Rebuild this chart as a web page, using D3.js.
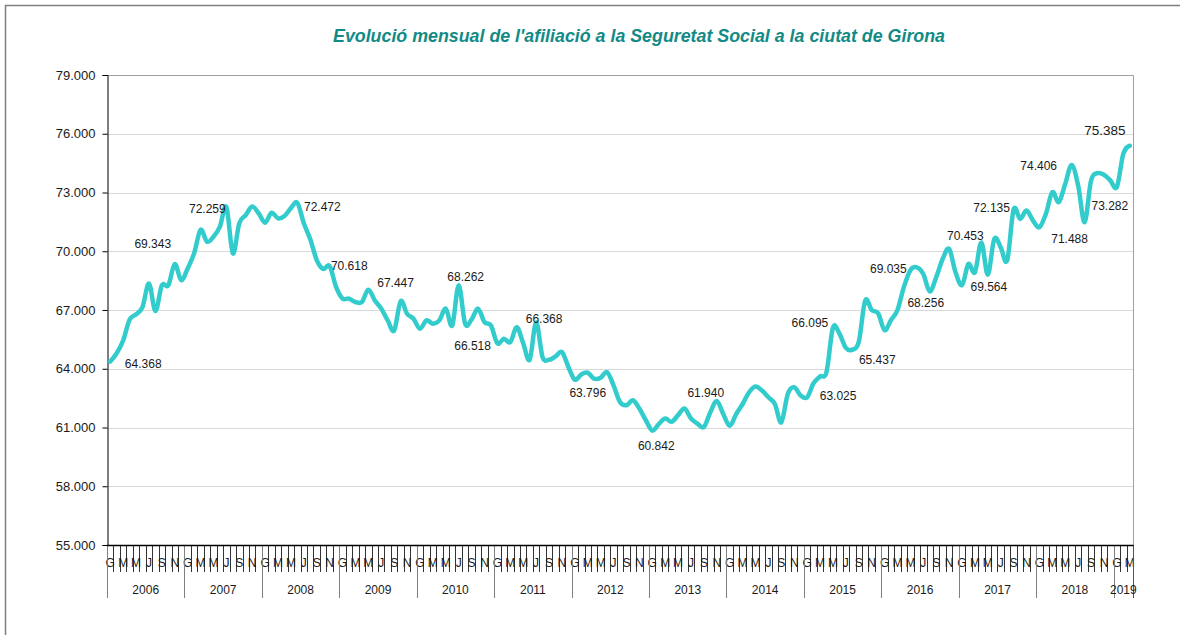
<!DOCTYPE html>
<html>
<head>
<meta charset="utf-8">
<script src="https://cdn.jsdelivr.net/npm/d3@7"></script>
<style>
  body { margin: 0; background: #fff; }
  svg { display: block; font-family: "Liberation Sans", Arial, sans-serif; }
</style>
</head>
<body>
<div class="chart"></div>
<script>
// afiliats per mes, gener 2006 - març 2019
var years = [2006, 2007, 2008, 2009, 2010, 2011, 2012, 2013, 2014, 2015, 2016, 2017, 2018, 2019];
var monthLetters = ['G', 'F', 'M', 'A', 'M', 'J', 'J', 'A', 'S', 'O', 'N', 'D'];
var afiliats = [
  64368, 64790, 65440, 66500, 66780, 67150, 68350, 66950, 68260, 68260, 69343, 68520, // 2006
  69120, 69890, 71090, 70490, 70740, 71260, 72259, 69890, 71430, 71850, 72280, 71940, // 2007
  71460, 71970, 71680, 71800, 72200, 72472, 71430, 70618, 69550, 69100, 69240, 68180, // 2008
  67580, 67580, 67410, 67410, 68040, 67490, 67070, 66470, 65950, 67447, 66810, 66550, // 2009
  66040, 66470, 66300, 66470, 67070, 66210, 68262, 66300, 66518, 67070, 66380, 66210, // 2010
  65300, 65530, 65360, 66120, 65300, 64460, 66368, 64590, 64460, 64630, 64850, 64090, // 2011
  63440, 63710, 63796, 63490, 63540, 63830, 63150, 62300, 62135, 62390, 61970, 61370, // 2012
  60842, 61170, 61460, 61290, 61630, 61970, 61460, 61200, 61020, 61780, 62350, 61690, // 2013
  61087, 61687, 62201, 62801, 63093, 62887, 62544, 62201, 61258, 62715, 63058, 62630, // 2014
  62540, 63264, 63607, 63830, 66095, 65800, 65063, 64978, 65372, 67480, 67000, 66830, // 2015
  65972, 66486, 67000, 68180, 69035, 69180, 68840, 67950, 68670, 69606, 70118, 68925, // 2016
  68277, 69350, 68925, 70453, 68806, 70630, 70200, 69521, 72135, 71652, 72079, 71567, // 2017
  71226, 71908, 73016, 72505, 73443, 74406, 73357, 71488, 73613, 73988, 73903, 73613, // 2018
  73282, 74977, 75385                                                                 // 2019
];
// etiquetes de dades
var etiquetaMes = [0, 10, 18, 29, 31, 45, 54, 56, 66, 74, 84, 94, 108, 112, 115, 124, 127, 135, 136, 140, 149, 151, 156, 158];
var etiquetaValor = [64368, 69343, 72259, 72472, 70618, 67447, 68262, 66518, 66368, 63796, 60842, 61940, 63025, 66095, 65437, 69035, 68256, 70453, 69564, 72135, 74406, 71488, 73282, 75385];
var yTicks = [55000, 58000, 61000, 64000, 67000, 70000, 73000, 76000, 79000];

// desplaçament de cada etiqueta respecte del punt
var etiquetaDesp = [[33, 2], [-22, -20], [-19, 2], [25, 4], [39, 27], [-5, -18], [7, -8], [1, 26], [8, -4], [0, 20], [4, 15],
  [-11, -8], [31, -2], [-23, -5], [25, 10], [-22, -1], [-4, 11], [-16, -7], [1, 12], [-22, -2], [-33, 1], [-15, 17], [-7, 19], [-25, -16]];

var width = 1180, height = 635;
var pLeft = 107, pRight = 1133, pTop = 75, pBottom = 545;

var loc = d3.formatLocale({decimal: ',', thousands: '.', grouping: [3], currency: ['', '€']});
var fmt = loc.format(',');

var svg = d3.select('.chart').append('svg')
  .attr('width', width)
  .attr('height', height);

// marc exterior
svg.append('rect')
  .attr('x', 5.5).attr('y', 5.5)
  .attr('width', 1300).attr('height', 800)
  .attr('fill', 'none')
  .attr('stroke', '#7f7f7f')
  .attr('stroke-width', 1.5);

svg.append('text')
  .attr('x', 639).attr('y', 42)
  .attr('text-anchor', 'middle')
  .attr('textLength', 612)
  .attr('lengthAdjust', 'spacingAndGlyphs')
  .style('font-size', '18.5px')
  .style('font-weight', 'bold')
  .style('font-style', 'italic')
  .style('fill', '#128a85')
  .text("Evolució mensual de l'afiliació a la Seguretat Social a la ciutat de Girona");

var x = d3.scaleBand()
  .domain(d3.range(afiliats.length))
  .range([pLeft, pRight]);
var bw = x.bandwidth();
var y = d3.scaleLinear()
  .domain([55000, 79000])
  .range([pBottom, pTop]);

// graella
svg.append('g').selectAll('line')
  .data(yTicks.slice(1, -1))
  .enter().append('line')
  .attr('x1', pLeft).attr('x2', pRight)
  .attr('y1', function (d) { return Math.round(y(d)) + 0.5; })
  .attr('y2', function (d) { return Math.round(y(d)) + 0.5; })
  .attr('stroke', '#d9d9d9');

// vora de l'àrea del gràfic (dalt i dreta)
svg.append('path')
  .attr('d', 'M' + pLeft + ',' + (pTop + 0.5) + 'H' + (pRight + 0.5) + 'V' + pBottom)
  .attr('fill', 'none')
  .attr('stroke', '#a0a0a0');

// eix Y
var yAxis = svg.append('g')
  .attr('transform', 'translate(' + (pLeft + 0.5) + ',0)')
  .call(d3.axisLeft(y).tickValues(yTicks).tickSize(5).tickPadding(7).tickFormat(fmt));
yAxis.select('.domain').attr('stroke', '#000');
yAxis.selectAll('.tick line').attr('stroke', '#000');
yAxis.selectAll('text').style('font-size', '13px').style('fill', '#1a1a1a').style('font-family', '"Liberation Sans", Arial, sans-serif');

// eix X: marques de mes
var fronteres = d3.range(afiliats.length + 1);
svg.append('g').selectAll('line')
  .data(fronteres.filter(function (i) { return i % 12 !== 0 && i !== afiliats.length; }))
  .enter().append('line')
  .attr('x1', function (i) { return Math.round(pLeft + i * bw) + 0.5; })
  .attr('x2', function (i) { return Math.round(pLeft + i * bw) + 0.5; })
  .attr('y1', pBottom).attr('y2', 572)
  .attr('stroke', '#333');

svg.append('g').selectAll('text')
  .data(d3.range(afiliats.length).filter(function (i) { return i % 2 === 0; }))
  .enter().append('text')
  .attr('x', function (i) { return x(i) + bw / 2; })
  .attr('y', 567)
  .attr('text-anchor', 'middle')
  .style('font-size', '12px')
  .style('fill', '#1a1a1a')
  .text(function (i) { return monthLetters[i % 12]; });

// separadors i etiquetes d'any
var inicisAny = years.map(function (yr, k) { return k * 12; }).concat([afiliats.length]);
svg.append('g').selectAll('line')
  .data(inicisAny)
  .enter().append('line')
  .attr('x1', function (i) { return Math.round(pLeft + i * bw) + 0.5; })
  .attr('x2', function (i) { return Math.round(pLeft + i * bw) + 0.5; })
  .attr('y1', pBottom).attr('y2', 598)
  .attr('stroke', function (i) { return i === afiliats.length ? '#555' : '#808080'; });

svg.append('g').selectAll('text')
  .data(years)
  .enter().append('text')
  .attr('x', function (yr, k) {
    var a = k * 12, b = Math.min((k + 1) * 12, afiliats.length);
    return pLeft + (a + b) / 2 * bw;
  })
  .attr('y', 594)
  .attr('text-anchor', 'middle')
  .style('font-size', '12px')
  .style('fill', '#1a1a1a')
  .text(function (d) { return d; });

// eix X: línia base
svg.append('line')
  .attr('x1', pLeft).attr('x2', pRight + 0.5)
  .attr('y1', pBottom + 0.5).attr('y2', pBottom + 0.5)
  .attr('stroke', '#000')
  .attr('stroke-width', 1.5);

// línia suavitzada
var line = d3.line()
  .x(function (d, i) { return x(i) + bw / 2; })
  .y(function (d) { return y(d); })
  .curve(d3.curveCatmullRom.alpha(0));

svg.append('path')
  .datum(afiliats)
  .attr('d', line)
  .attr('fill', 'none')
  .attr('stroke', '#33cccc')
  .attr('stroke-width', 4.5)
  .attr('stroke-linejoin', 'round')
  .attr('stroke-linecap', 'round');

// etiquetes
svg.append('g').selectAll('text')
  .data(etiquetaMes)
  .enter().append('text')
  .attr('x', function (m, k) { return x(m) + bw / 2 + etiquetaDesp[k][0]; })
  .attr('y', function (m, k) { return y(afiliats[m]) + etiquetaDesp[k][1]; })
  .attr('dy', '0.35em')
  .attr('text-anchor', 'middle')
  .style('font-size', function (m, k) { return k === etiquetaMes.length - 1 ? '13.5px' : '12px'; })
  .style('fill', '#1a1a1a')
  .text(function (m, k) { return fmt(etiquetaValor[k]); });
</script>
</body>
</html>
